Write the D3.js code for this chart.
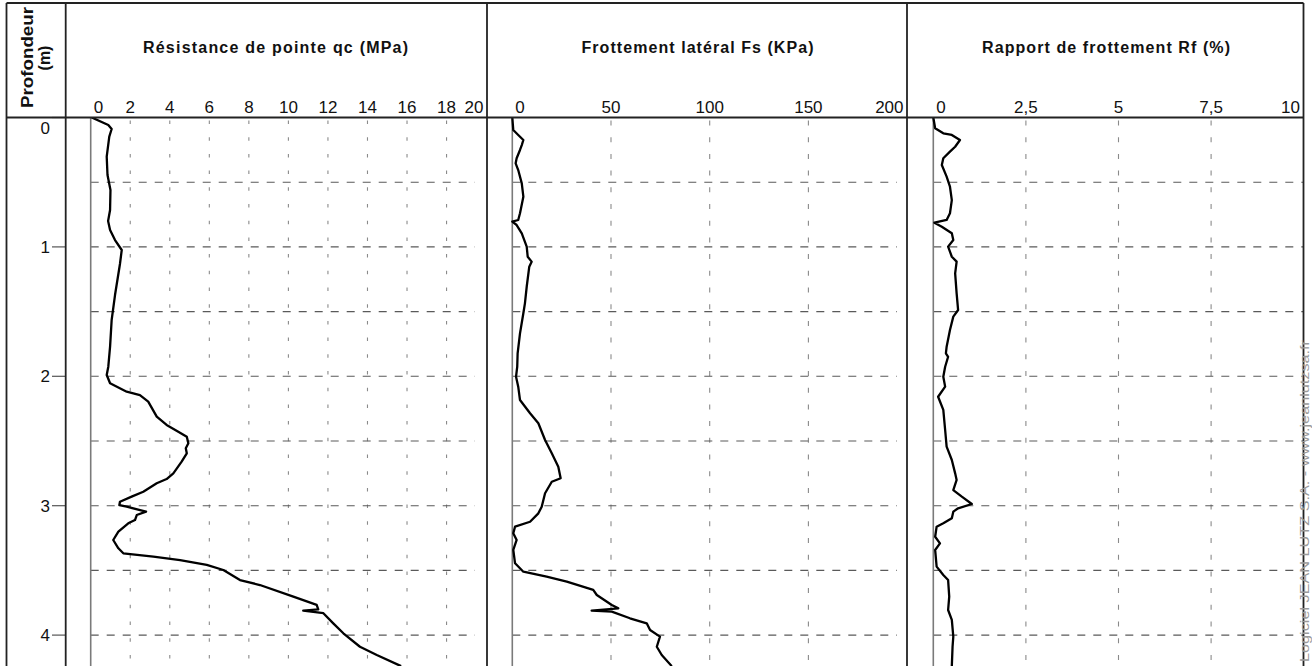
<!DOCTYPE html>
<html>
<head>
<meta charset="utf-8">
<script src="https://cdn.jsdelivr.net/npm/d3@7"></script>
<style>
  html, body { margin: 0; padding: 0; background: #fff; }
  svg { display: block; }
  text { font-family: "Liberation Sans", Arial, sans-serif; }
</style>
</head>
<body>
<svg id="chart" width="1312" height="666"></svg>
<script>
// ---------- data ----------
const depthTicks = [0, 1, 2, 3, 4];
const depthGrid = [0.5, 1, 1.5, 2, 2.5, 3, 3.5, 4];

const qcTicks = [0, 2, 4, 6, 8, 10, 12, 14, 16, 18, 20];
const qcTickLabels = ["0", "2", "4", "6", "8", "10", "12", "14", "16", "18", "20"];
const fsTicks = [0, 50, 100, 150, 200];
const fsTickLabels = ["0", "50", "100", "150", "200"];
const rfTicks = [0, 2.5, 5, 7.5, 10];
const rfTickLabels = ["0", "2,5", "5", "7,5", "10"];

const titles = ["Résistance de pointe qc (MPa)", "Frottement latéral Fs (KPa)", "Rapport de frottement Rf (%)"];

const qcDepth = [0.00, 0.058, 0.089, 0.148, 0.303, 0.444, 0.560, 0.715, 0.800, 0.869, 0.947, 1.024, 1.132, 1.372, 1.565, 1.771, 1.926, 1.990, 2.054, 2.119, 2.145, 2.196, 2.312, 2.376, 2.428, 2.467, 2.518, 2.556, 2.595, 2.660, 2.750, 2.794, 2.827, 2.892, 2.930, 2.969, 2.995, 3.008, 3.046, 3.072, 3.111, 3.136, 3.201, 3.265, 3.329, 3.368, 3.394, 3.420, 3.458, 3.497, 3.575, 3.613, 3.703, 3.767, 3.801, 3.811, 3.831, 3.909, 3.986, 4.090, 4.154, 4.240];
const qcValues = [0.05, 0.89, 1.06, 0.94, 0.81, 0.85, 1.00, 0.98, 0.88, 0.98, 1.23, 1.57, 1.48, 1.23, 1.06, 0.98, 0.89, 0.81, 0.98, 1.82, 2.49, 2.91, 3.34, 3.84, 4.43, 4.86, 4.94, 4.81, 4.86, 4.60, 4.18, 3.84, 3.34, 2.66, 2.07, 1.48, 1.45, 1.82, 2.80, 2.33, 2.24, 1.90, 1.40, 1.14, 1.40, 1.65, 3.17, 4.52, 5.87, 6.71, 7.55, 8.56, 10.25, 11.43, 11.51, 10.75, 11.77, 12.27, 12.78, 13.62, 14.47, 15.70];

const fsDepth = [0.00, 0.097, 0.135, 0.174, 0.213, 0.251, 0.315, 0.354, 0.406, 0.509, 0.612, 0.740, 0.792, 0.805, 0.831, 0.895, 0.998, 1.076, 1.114, 1.153, 1.308, 1.436, 1.513, 1.668, 1.822, 1.926, 2.003, 2.080, 2.183, 2.286, 2.363, 2.492, 2.595, 2.699, 2.788, 2.815, 2.904, 3.008, 3.059, 3.124, 3.162, 3.213, 3.265, 3.342, 3.445, 3.510, 3.549, 3.587, 3.651, 3.690, 3.767, 3.793, 3.811, 3.819, 3.870, 3.909, 3.961, 4.012, 4.090, 4.154, 4.240];
const fsValues = [0.0, 0.5, 3.0, 5.6, 4.8, 3.9, 2.2, 1.7, 3.0, 4.8, 5.6, 3.9, 3.0, 0.0, 2.2, 4.8, 7.3, 7.8, 9.8, 8.6, 7.3, 6.4, 5.6, 3.9, 2.7, 2.5, 1.9, 3.0, 3.9, 9.0, 13.2, 16.6, 20.0, 23.3, 24.5, 20.0, 16.6, 14.9, 13.2, 9.0, 1.4, 0.5, 2.2, 0.5, 1.4, 5.6, 17.4, 27.6, 41.0, 42.8, 50.4, 53.7, 40.2, 50.4, 59.6, 68.1, 69.8, 74.8, 73.2, 75.7, 80.8];

const rfDepth = [0.00, 0.083, 0.122, 0.135, 0.174, 0.226, 0.264, 0.315, 0.367, 0.457, 0.535, 0.638, 0.740, 0.792, 0.813, 0.844, 0.895, 0.947, 0.998, 1.076, 1.114, 1.204, 1.359, 1.488, 1.539, 1.642, 1.771, 1.822, 1.849, 1.926, 2.003, 2.080, 2.158, 2.260, 2.415, 2.544, 2.647, 2.750, 2.801, 2.879, 2.930, 2.987, 3.020, 3.046, 3.097, 3.136, 3.162, 3.240, 3.291, 3.342, 3.471, 3.536, 3.574, 3.703, 3.806, 3.883, 4.012, 4.090, 4.240];
const rfValues = [0.00, 0.05, 0.27, 0.50, 0.72, 0.59, 0.45, 0.27, 0.23, 0.36, 0.45, 0.50, 0.45, 0.36, 0.03, 0.23, 0.50, 0.54, 0.40, 0.50, 0.63, 0.59, 0.63, 0.67, 0.54, 0.45, 0.36, 0.34, 0.40, 0.32, 0.27, 0.32, 0.13, 0.27, 0.32, 0.36, 0.50, 0.59, 0.63, 0.54, 0.77, 1.04, 0.67, 0.54, 0.50, 0.27, 0.09, 0.05, 0.18, 0.05, 0.09, 0.27, 0.40, 0.43, 0.40, 0.50, 0.54, 0.52, 0.50];

// ---------- layout ----------
const svg = d3.select("#chart");
const W = 1312, H = 666;
const headerTop = 3, headerBottom = 117.5, frameLeft = 6.5;
const y = d3.scaleLinear().domain([0, 4]).range([117.5, 635.1]);

const panels = [
  { title: titles[0], ticks: qcTicks, labels: qcTickLabels, depth: qcDepth, values: qcValues,
    x: d3.scaleLinear().domain([0, 20]).range([90.7, 486.1]), left: 65.7, right: 487, hEnd: 475,
    vDash: "3.5,13.2", titleX: 275.5, titleLen: 265 },
  { title: titles[1], ticks: fsTicks, labels: fsTickLabels, depth: fsDepth, values: fsValues,
    x: d3.scaleLinear().domain([0, 200]).range([512.3, 907.1]), left: 487, right: 907, hEnd: 897,
    vDash: "5,11.7", titleX: 697.5, titleLen: 232 },
  { title: titles[2], ticks: rfTicks, labels: rfTickLabels, depth: rfDepth, values: rfValues,
    x: d3.scaleLinear().domain([0, 10]).range([933.3, 1303.7]), left: 907, right: 1303.5, hEnd: 1303,
    vDash: "5,11.7", titleX: 1106, titleLen: 248 }
];

svg.append("defs").append("clipPath").attr("id", "plotClip")
  .append("rect").attr("x", 0).attr("y", headerBottom).attr("width", W).attr("height", H - headerBottom);

// ---------- grids, axes, curves ----------
panels.forEach(p => {
  const g = svg.append("g");
  const [x0] = p.x.range();

  // vertical dashed grid lines
  g.selectAll(".vgrid").data(p.ticks.slice(1, -1)).join("line")
    .attr("x1", d => p.x(d)).attr("x2", d => p.x(d))
    .attr("y1", headerBottom + 3).attr("y2", H)
    .attr("stroke", "#8a8a8a").attr("stroke-width", 1.1)
    .attr("stroke-dasharray", p.vDash);

  // horizontal dashed grid lines
  g.selectAll(".hgrid").data(depthGrid).join("line")
    .attr("x1", x0).attr("x2", p.hEnd)
    .attr("y1", d => y(d)).attr("y2", d => y(d))
    .attr("stroke", "#5a5a5a").attr("stroke-width", 1.1)
    .attr("stroke-dasharray", "8,8");

  // zero axis line
  g.append("line").attr("x1", x0).attr("x2", x0).attr("y1", headerBottom).attr("y2", H)
    .attr("stroke", "#7a7a7a").attr("stroke-width", 1.6);

  // curve
  const pts = p.depth.map((d, i) => [d, p.values[i]]);
  g.append("path").datum(pts)
    .attr("clip-path", "url(#plotClip)")
    .attr("fill", "none").attr("stroke", "#000").attr("stroke-width", 2.3)
    .attr("stroke-linejoin", "round")
    .attr("d", d3.line().x(d => p.x(d[1])).y(d => y(d[0])));

  // tick labels
  g.selectAll(".tl").data(p.ticks).join("text")
    .attr("x", (d, i) => i === 0 ? x0 + 3 : (i === p.ticks.length - 1 ? p.right - 3.5 : p.x(d)))
    .attr("y", 112.5)
    .attr("text-anchor", (d, i) => i === 0 ? "start" : (i === p.ticks.length - 1 ? "end" : "middle"))
    .attr("font-size", 17).attr("fill", "#111")
    .text((d, i) => p.labels[i]);

  // title
  g.append("text").attr("x", p.titleX).attr("y", 52.5)
    .attr("text-anchor", "middle").attr("font-size", 16).attr("font-weight", "bold")
    .attr("fill", "#111")
    .attr("textLength", p.titleLen).attr("lengthAdjust", "spacing")
    .text(p.title);
});

// ---------- depth axis ----------
const dg = svg.append("g");
dg.selectAll(".dt").data(depthTicks).join("line")
  .attr("x1", 52).attr("x2", 65.7).attr("y1", d => y(d)).attr("y2", d => y(d))
  .attr("stroke", "#555").attr("stroke-width", 1.2);
dg.selectAll(".dl").data(depthTicks).join("text")
  .attr("x", 50).attr("y", d => d === 0 ? y(d) + 16 : y(d) + 6)
  .attr("text-anchor", "end").attr("font-size", 17).attr("fill", "#111")
  .text(d => d);

// "Profondeur (m)"
svg.append("text").attr("transform", "translate(33,57.5) rotate(-90)")
  .attr("text-anchor", "middle").attr("font-size", 16).attr("font-weight", "bold").attr("fill", "#111")
  .attr("textLength", 101).attr("lengthAdjust", "spacingAndGlyphs")
  .text("Profondeur");
svg.append("text").attr("transform", "translate(50,58) rotate(-90)")
  .attr("text-anchor", "middle").attr("font-size", 16).attr("font-weight", "bold").attr("fill", "#111")
  .text("(m)");

// ---------- frame ----------
const frame = svg.append("g").attr("stroke", "#222").attr("stroke-width", 1.8);
frame.append("line").attr("x1", frameLeft).attr("x2", 1303.5).attr("y1", headerTop).attr("y2", headerTop);
frame.append("line").attr("x1", frameLeft).attr("x2", 1303.5).attr("y1", headerBottom).attr("y2", headerBottom);
[frameLeft, 65.7, 487, 907, 1303.5].forEach(xv => {
  frame.append("line").attr("x1", xv).attr("x2", xv).attr("y1", headerTop).attr("y2", H);
});

// ---------- watermark ----------
svg.append("text").attr("transform", "translate(1309,340) rotate(-90)")
  .attr("text-anchor", "end").attr("font-size", 12).attr("fill", "#9a9a9a")
  .attr("textLength", 322).attr("lengthAdjust", "spacingAndGlyphs")
  .text("Logiciel JEAN LUTZ S.A. - www.jeanlutzsa.fr");
</script>
</body>
</html>
